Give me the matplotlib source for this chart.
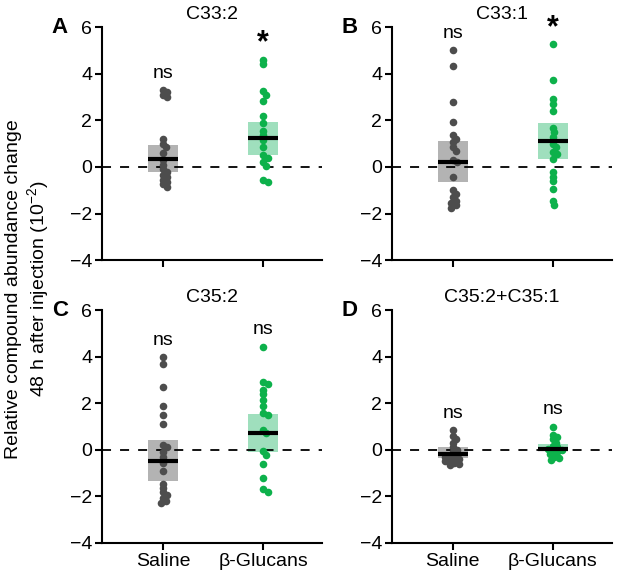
import numpy as np
import matplotlib
matplotlib.use("Agg")
import matplotlib.pyplot as plt

plt.rcParams['font.family'] = ['Liberation Sans', 'DejaVu Sans']
plt.rcParams['mathtext.fontset'] = 'custom'
plt.rcParams['mathtext.rm'] = 'Liberation Sans'

groups = ['Saline', 'β-Glucans']
titles = ['C33:2', 'C33:1', 'C35:2', 'C35:2+C35:1']
letters = ['A', 'B', 'C', 'D']

# dot values per panel (saline, glucans)
a_sal = [3.3, 3.2, 3.1, 3.0, 1.2, 1.0, 0.85, 0.6, 0.3, 0.1, -0.1, -0.2, -0.35, -0.45, -0.55, -0.65, -0.75, -0.85]
a_glu = [4.6, 4.4, 3.25, 3.1, 2.85, 2.2, 1.9, 1.55, 1.35, 1.15, 0.85, 0.5, 0.4, 0.2, 0.05, -0.55, -0.65]
b_sal = [5.0, 4.35, 2.8, 1.95, 1.35, 1.2, 1.05, 0.85, 0.7, 0.3, 0.2, -0.45, -1.0, -1.15, -1.3, -1.45, -1.55, -1.65, -1.75]
b_glu = [5.26, 3.74, 2.9, 2.7, 2.4, 1.67, 1.5, 1.29, 1.0, 0.86, 0.64, 0.57, 0.36, -0.21, -0.43, -0.61, -0.93, -1.47, -1.64]
c_sal = [3.97, 3.67, 2.71, 1.89, 1.5, 1.11, 0.19, 0.1, -0.11, -0.29, -0.57, -0.89, -1.46, -1.64, -1.83, -1.93, -2.07, -2.19, -2.29]
c_glu = [4.43, 2.93, 2.83, 2.57, 2.39, 2.14, 1.86, 1.57, 1.5, 0.86, 0.74, -0.07, -0.21, -0.61, -1.21, -1.69, -1.8]
d_sal = [0.85, 0.6, 0.45, 0.3, 0.1, 0.0, -0.1, -0.2, -0.25, -0.3, -0.35, -0.4, -0.45, -0.5, -0.55, -0.6, -0.65]
d_glu = [1.0, 0.65, 0.55, 0.45, 0.3, 0.15, 0.1, 0.05, 0.0, -0.05, -0.1, -0.2, -0.3, -0.35, -0.45]

# centre line and box (low, high) for each group
centers = [(0.35, 1.23), (0.23, 1.11), (-0.47, 0.71), (-0.17, 0.04)]
box_lo = [(-0.2, 0.5), (-0.64, 0.36), (-1.36, -0.11), (-0.36, -0.07)]
box_hi = [(0.92, 1.93), (1.1, 1.89), (0.43, 1.54), (0.14, 0.26)]
sig = [('ns', '*'), ('ns', '*'), ('ns', 'ns'), ('ns', 'ns')]

data = [(a_sal, a_glu), (b_sal, b_glu), (c_sal, c_glu), (d_sal, d_glu)]

dot_cols = ['#4d4d4d', '#0db14b']
box_cols = ['#b3b3b3', '#9fdfbd']

positions = [[0.165, 0.550, 0.357, 0.403], [0.635, 0.550, 0.357, 0.403],
             [0.165, 0.0606, 0.357, 0.403], [0.635, 0.0606, 0.357, 0.403]]


def swarm(vals, d=4.0, step=1.5, xpx=100.0, ypx=23.3):
    # small sideways shift so dots that sit too close do not fully overlap
    placed = []
    offs = []
    for v in vals:
        y = v * ypx
        k = 0
        while True:
            for x in ([0.0] if k == 0 else [k * step, -k * step]):
                if all((x - px) ** 2 + (y - py) ** 2 >= d * d for px, py in placed):
                    break
            else:
                k += 1
                continue
            break
        placed.append((x, y))
        offs.append(x / xpx)
    return np.array(offs)


fig = plt.figure(figsize=(6.17, 5.78), dpi=100)

for i in range(4):
    ax = fig.add_axes(positions[i])
    for g in range(2):
        vals = np.array(data[i][g])
        ax.bar(g, box_hi[i][g] - box_lo[i][g], bottom=box_lo[i][g], width=0.3,
               color=box_cols[g], zorder=1)
        ax.scatter(g + swarm(vals), vals, s=30, color=dot_cols[g], zorder=3, linewidths=0)
        ax.plot([g - 0.15, g + 0.15], [centers[i][g]] * 2, color='black', lw=3, zorder=4,
                solid_capstyle='butt')
        label = sig[i][g]
        if label == '*':
            ax.text(g, vals.max() + 0.05, label, ha='center', va='bottom', fontsize=22,
                    fontweight='bold')
        else:
            ax.text(g, vals.max() + 0.35, label, ha='center', va='bottom', fontsize=14)
    ax.axhline(0, color='black', lw=1.3, ls=(0, (5, 5)), zorder=2)
    ax.set_xlim(-0.61, 1.59)
    ax.set_ylim(-4, 6)
    ax.set_yticks([-4, -2, 0, 2, 4, 6])
    ax.set_xticks([0, 1])
    if i >= 2:
        ax.set_xticklabels(groups)
    else:
        ax.set_xticklabels([])
    ax.spines['top'].set_visible(False)
    ax.spines['right'].set_visible(False)
    ax.spines['left'].set_linewidth(1.5)
    ax.spines['bottom'].set_linewidth(1.5)
    ax.tick_params(width=1.5, length=5, labelsize=14, pad=2)
    ax.set_title(titles[i], fontsize=14, pad=6)
    fig.text(positions[i][0] - 0.068, positions[i][1] + positions[i][3], letters[i],
             fontsize=16, fontweight='bold', ha='center', va='center')

fig.text(0.046, 0.5, 'Relative compound abundance change\n48 h after injection (10$^{\\mathregular{-2}}$)',
         rotation=90, ha='center', va='center', fontsize=14, linespacing=1.15)

plt.savefig('out.png', dpi=100)
